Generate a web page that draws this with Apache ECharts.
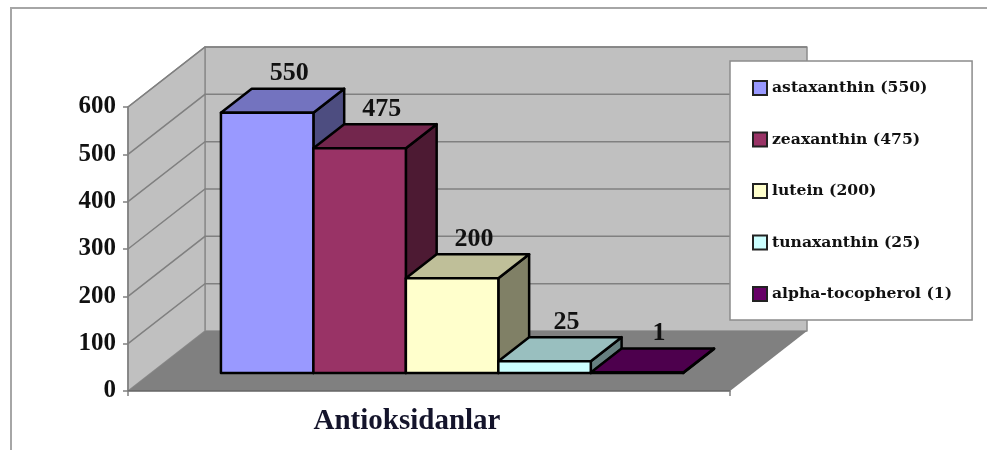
<!DOCTYPE html>
<html>
<head>
<meta charset="utf-8">
<style>
  html, body { margin: 0; padding: 0; background: #fff; }
  #chart { width: 987px; height: 450px; }
</style>
<script src="https://cdn.jsdelivr.net/npm/echarts@6/dist/echarts.min.js"></script>
</head>
<body>
<div id="chart"></div>
<script>
var categories = ["Antioksidanlar"];
var seriesNames = ["astaxanthin (550)", "zeaxanthin (475)", "lutein (200)", "tunaxanthin (25)", "alpha-tocopherol (1)"];
var seriesValues = [550, 475, 200, 25, 1];
var yTicks = [0, 100, 200, 300, 400, 500, 600];
var frontColors = ["#9999ff", "#993366", "#ffffcc", "#ccffff", "#660066"];
var topColors = ["#7373bf", "#73264d", "#bfbf99", "#99bfbf", "#4d004d"];
var sideColors = ["#4d4d80", "#4d1a33", "#808066", "#668080", "#330033"];

var FONT = '"Liberation Serif", "Times New Roman", serif';
var LEGEND_FONT = '"DejaVu Serif", serif';
// depth of the fake 3d box, in pixels
var DEPTH_X = 77;
var DEPTH_Y = -60;
var BAR_FRONT = 0.3; // where the bars start inside the depth
var BAR_BACK = 0.7;
var BARS_SHARE = 0.768; // part of the category band used by bars

function shift(p, t) {
  return [p[0] + DEPTH_X * t, p[1] + DEPTH_Y * t];
}

function poly(points, fill, stroke, lineWidth) {
  return {
    type: "polygon",
    shape: { points: points },
    style: { fill: fill, stroke: stroke, lineWidth: lineWidth || 0, lineJoin: "round" }
  };
}

function renderWalls(params, api) {
  var band = api.size([1, 0])[0];
  var c = api.coord([0, api.value(1)]);
  var fl = [c[0] - band / 2, c[1]];
  var fr = [c[0] + band / 2, c[1]];
  var children = [];
  if (params.dataIndex === 0) {
    var top = api.coord([0, yTicks[yTicks.length - 1]]);
    var tl = [top[0] - band / 2, top[1]];
    var tr = [top[0] + band / 2, top[1]];
    children.push(poly([shift(fl, 1), shift(tl, 1), shift(tr, 1), shift(fr, 1)], "#c0c0c0", "#8c8c8c", 1.5));
    children.push(poly([fl, tl, shift(tl, 1), shift(fl, 1)], "#c0c0c0", "#8c8c8c", 1.5));
    children.push(poly([fl, fr, shift(fr, 1), shift(fl, 1)], "#808080"));
  } else {
    children.push({
      type: "polyline",
      shape: { points: [fl, shift(fl, 1), shift(fr, 1)] },
      style: { fill: "none", stroke: "#808080", lineWidth: 1.5 }
    });
  }
  return { type: "group", children: children };
}

function renderBar(params, api) {
  var i = params.seriesIndex - 1;
  var band = api.size([1, 0])[0];
  var w = band * BARS_SHARE / seriesNames.length;
  var top = api.coord([0, api.value(1)]);
  var base = api.coord([0, 0]);
  var x0 = top[0] - w * seriesNames.length / 2 + w * i;
  var x1 = x0 + w;
  var a = shift([x0, base[1]], BAR_FRONT); // front bottom left
  var b = shift([x1, base[1]], BAR_FRONT); // front bottom right
  var c = shift([x1, top[1]], BAR_FRONT); // front top right
  var d = shift([x0, top[1]], BAR_FRONT); // front top left
  var e = shift([x0, top[1]], BAR_BACK);
  var f = shift([x1, top[1]], BAR_BACK);
  var g = shift([x1, base[1]], BAR_BACK);
  return {
    type: "group",
    children: [
      poly([b, c, f, g], sideColors[i], "#000", 2.5),
      poly([d, c, f, e], topColors[i], "#000", 2.5),
      poly([a, b, c, d], frontColors[i], "#000", 2.5),
      {
        type: "text",
        style: {
          x: (d[0] + c[0]) / 2 + 22,
          y: d[1] - 39,
          text: String(api.value(1)),
          fill: "#111",
          font: "bold 26px " + FONT,
          align: "center",
          verticalAlign: "middle"
        }
      }
    ]
  };
}

var series = [
  {
    name: "walls",
    type: "custom",
    silent: true,
    z: 1,
    renderItem: renderWalls,
    encode: { x: 0, y: 1 },
    data: yTicks.map(function (t) { return [0, t]; })
  }
];
seriesNames.forEach(function (name, i) {
  series.push({
    name: name,
    type: "custom",
    z: 2,
    renderItem: renderBar,
    encode: { x: 0, y: 1 },
    itemStyle: { color: frontColors[i] },
    data: [[0, seriesValues[i]]]
  });
});

var myChart = echarts.init(document.getElementById("chart"));
myChart.setOption({
  animation: false,
  backgroundColor: "#fff",
  grid: { left: 128, right: 257, top: 107, bottom: 59 },
  graphic: [
    {
      type: "polyline",
      shape: { points: [[11, 450], [11, 8], [987, 8]] },
      style: { fill: "none", stroke: "#a6a6a6", lineWidth: 2 }
    }
  ],
  legend: {
    data: seriesNames,
    orient: "vertical",
    left: 730,
    top: 61,
    padding: [19, 20, 18, 22],
    itemWidth: 14,
    itemHeight: 14,
    itemGap: 35.5,
    icon: "rect",
    selectedMode: false,
    backgroundColor: "#fff",
    borderColor: "#8c8c8c",
    borderWidth: 1.5,
    itemStyle: { borderColor: "#222", borderWidth: 2 },
    textStyle: { fontFamily: LEGEND_FONT, fontWeight: "bold", fontSize: 15.6, lineHeight: 14, color: "#111" }
  },
  xAxis: {
    type: "category",
    data: categories,
    z: 5,
    axisLine: { lineStyle: { color: "#666", width: 1.5 } },
    axisTick: { show: true, length: 5, lineStyle: { color: "#808080", width: 1.5 } },
    axisLabel: {
      fontFamily: FONT,
      fontWeight: "bold",
      fontSize: 29,
      color: "#14142b",
      margin: 16,
      padding: [0, 44, 0, 0]
    }
  },
  yAxis: {
    type: "value",
    min: 0,
    max: 600,
    interval: 100,
    z: 5,
    splitLine: { show: false },
    axisLine: { show: true, lineStyle: { color: "#808080", width: 1.5 } },
    axisTick: { show: true, length: 5, lineStyle: { color: "#808080", width: 1.5 } },
    axisLabel: {
      fontFamily: FONT,
      fontWeight: "bold",
      fontSize: 25,
      color: "#111",
      margin: 12
    }
  },
  series: series
});
</script>
</body>
</html>
